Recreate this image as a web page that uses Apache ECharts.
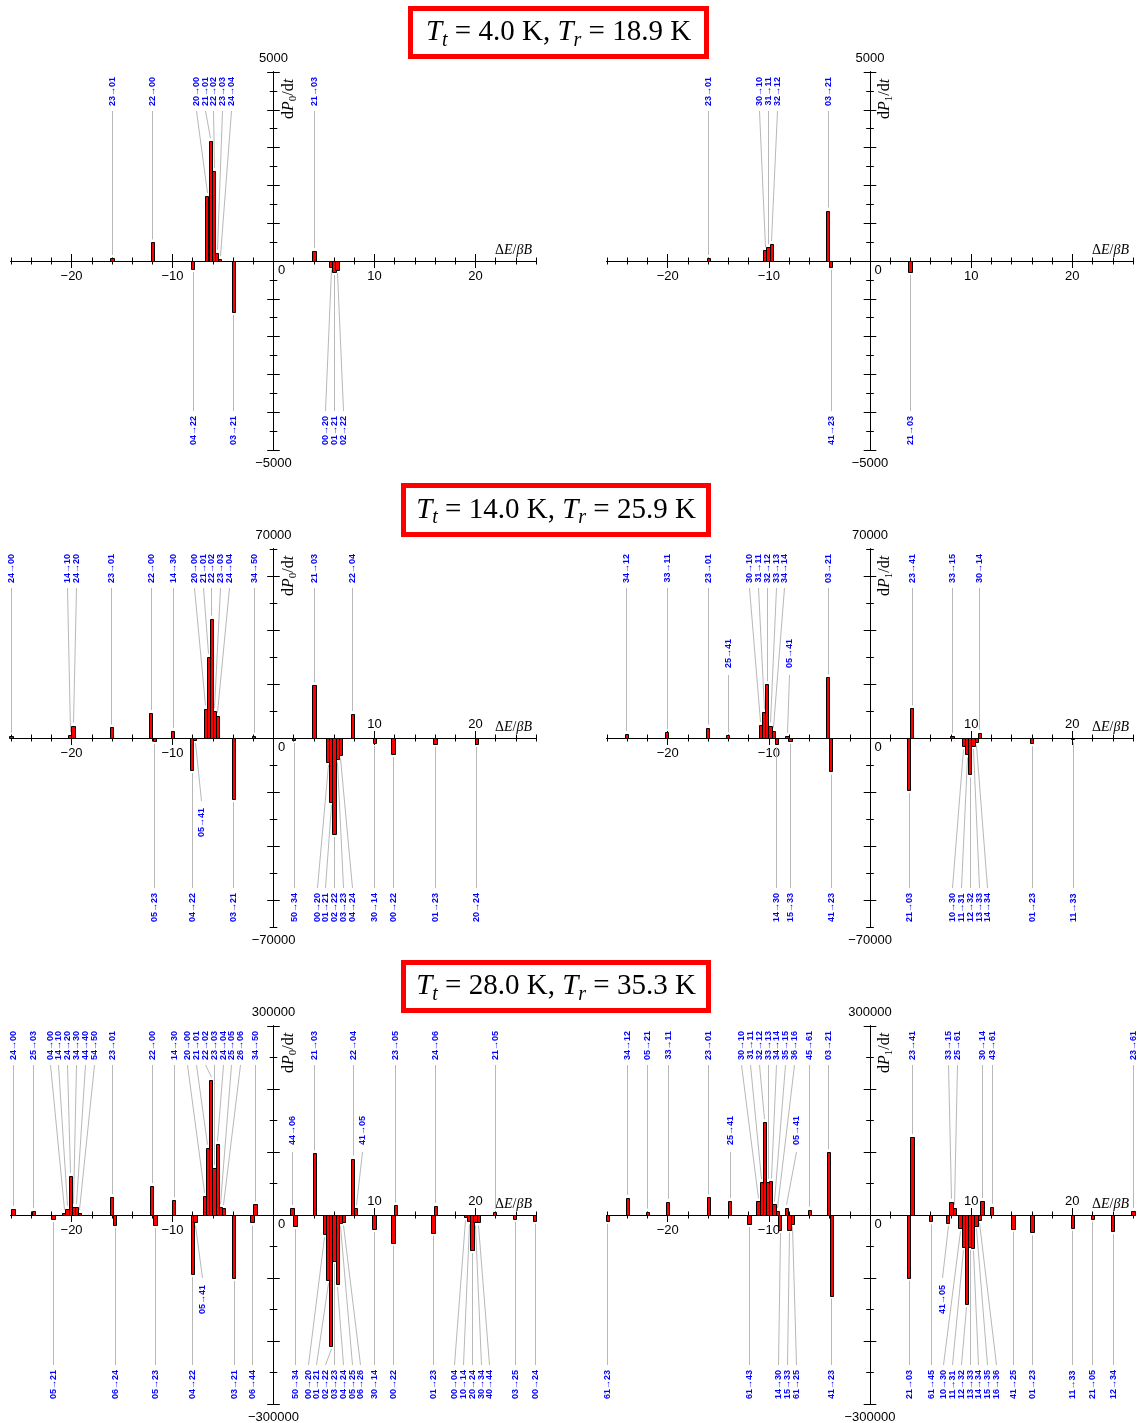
<!DOCTYPE html>
<html>
<head>
<meta charset="utf-8">
<title>Transition rates</title>
<script src="https://cdn.jsdelivr.net/npm/echarts@6/dist/echarts.min.js"></script>
<style>
html,body{margin:0;padding:0;background:#ffffff;}
#chart{width:1146px;height:1423px;}
</style>
</head>
<body>
<div id="chart"></div>
<script>
// ================= DATA =================
const titleTt = ['4.0', '14.0', '28.0'];
const titleTr = ['18.9', '25.9', '35.3'];
const yLimits = [5000, 70000, 300000];
const yMajorStep = [1000, 20000, 100000];
const yMinorStep = [500, 10000, 50000];
const xLimit = 26;
const xTickStep = 2;
const xMajorTicks = [-20, -10, 0, 10, 20];
const xLabelsBelow = [[-20, -10, 0, 10, 20], [-20, -10, 0], [-20, -10, 0]];
const xLabelsAbove = [[], [10, 20], [10, 20]];
const ySubscripts = ['0', '1'];

// Row 1 (T_t = 4.0 K), dP0/dt
const p1Labels = ['23→01','22→00','04→22','20→00','21→01','22→02','23→03','24→04','03→21','21→03','00→20','01→21','02→22'];
const p1X = [-16.0,-12.0,-8.0,-6.6,-6.27,-5.94,-5.63,-5.33,-4.0,4.0,5.7,6.0,6.3];
const p1V = [80,490,-215,1720,3170,2380,220,50,-1345,270,-150,-290,-230];

// Row 1, dP1/dt
const p2Labels = ['23→01','30→10','31→11','32→12','03→21','41→23','21→03'];
const p2X = [-16.0,-10.4,-10.08,-9.76,-4.2,-3.88,3.95];
const p2V = [80,285,365,455,1335,-150,-285];

// Row 2 (T_t = 14.0 K), dP0/dt
const p3Labels = ['24→00','14→10','24→20','23→01','22→00','05→23','14→30','04→22','05→41','20→00','21→01','22→02','23→03','24→04','03→21','34→50','50→34','21→03','00→20','01→21','02→22','03→23','04→24','22→04','30→14','00→22','01→23','20→24'];
const p3X = [-26.0,-20.2,-19.85,-16.05,-12.15,-11.8,-10.0,-8.1,-7.8,-6.75,-6.45,-6.15,-5.85,-5.55,-4.0,-1.95,2.0,4.0,5.37,5.69,6.0,6.33,6.63,7.82,10.0,11.84,16.0,20.1];
const p3V = [800,1100,4500,3900,9250,-1000,2600,-11900,-750,10900,30100,44250,9900,8250,-22600,900,-750,19500,-8800,-23800,-35500,-7900,-6400,8900,-1750,-5900,-2100,-2250];

// Row 2, dP1/dt
const p4Labels = ['34→12','33→11','23→01','25→41','30→10','31→11','32→12','33→13','34→14','14→30','05→41','15→33','03→21','41→23','21→03','23→41','33→15','10→30','11→31','12→32','13→33','14→34','30→14','01→23','11→33'];
const p4X = [-24.1,-20.1,-16.05,-14.05,-10.84,-10.52,-10.2,-9.88,-9.56,-9.28,-8.2,-7.9,-4.2,-3.9,3.82,4.14,8.1,9.23,9.54,9.86,10.18,10.5,10.8,16.0,20.03];
const p4V = [1500,2200,3850,1000,4850,9450,19900,4600,2750,-2250,750,-1000,22500,-12400,-19200,10950,750,-3100,-6100,-13500,-2900,-1600,1900,-1900,-500];

// Row 3 (T_t = 28.0 K), dP0/dt
const p5Labels = ['24→00','25→03','05→21','04→00','14→10','24→20','34→30','44→40','54→50','23→01','06→24','22→00','05→23','14→30','04→22','05→41','20→00','21→01','22→02','23→03','24→04','25→05','26→06','03→21','06→44','34→50','44→06','50→34','21→03','00→20','01→21','02→22','03→23','04→24','05→25','06→26','22→04','41→05','30→14','00→22','23→05','01→23','24→06','00→04','10→14','20→24','30→34','40→44','21→05','03→25','00→24'];
const p5X = [-25.8,-23.8,-21.84,-20.78,-20.46,-20.14,-19.82,-19.54,-19.22,-16.04,-15.72,-12.05,-11.73,-9.9,-8.06,-7.77,-6.86,-6.54,-6.22,-5.9,-5.58,-5.27,-4.96,-3.94,-2.12,-1.84,1.84,2.12,4.03,5.05,5.37,5.68,6.0,6.31,6.62,6.93,7.84,8.13,9.96,11.84,12.08,15.8,16.04,19.0,19.33,19.65,19.96,20.28,21.9,23.9,25.87];
const p5V = [9700,6500,-6400,3800,10000,62000,13000,12400,3200,28600,-16100,45900,-16100,23200,-93400,-11800,30800,107000,214000,74500,113000,12400,11300,-99800,-11800,16700,11300,-17700,97700,-30600,-103600,-207700,-72500,-109500,-12900,-11800,89600,10800,-22500,-44000,15100,-27900,14600,-3800,-10200,-55800,-11800,-11800,4900,-6400,-9100];

// Row 3, dP1/dt
const p6Labels = ['61→23','34→12','05→21','33→11','23→01','25→41','61→43','30→10','31→11','32→12','33→13','34→14','35→15','36→16','14→30','05→41','15→33','61→25','45→61','03→21','41→23','21→03','23→41','61→45','41→05','33→15','25→61','10→30','11→31','12→32','13→33','14→34','15→35','16→36','30→14','43→61','41→25','01→23','11→33','21→05','12→34','23→61'];
const p6X = [-25.96,-24.0,-22.0,-20.0,-16.0,-13.86,-11.96,-11.08,-10.76,-10.44,-10.12,-9.8,-9.49,-9.17,-8.92,-8.29,-8.0,-7.69,-6.0,-4.13,-3.81,3.81,4.16,6.0,7.69,8.0,8.32,8.89,9.21,9.52,9.84,10.16,10.48,10.79,11.08,12.03,14.14,16.01,20.0,21.98,24.0,26.0];
const p6V = [-9200,27500,5400,21000,28100,22100,-14600,21600,52300,147300,52300,53400,16700,6500,-24300,11300,-23200,-13500,8600,99800,-127900,-99300,123600,-10300,-12400,21000,11300,-21000,-50700,-141400,-50700,-51800,-16700,-7600,22100,13000,-21600,-27500,-20000,-5900,-25400,6500];

// labels drawn at the inner (second) tier
const innerLabels = [[], [], ['05→41'], ['25→41','05→41'], ['05→41','44→06','41→05'], ['25→41','05→41','41→05']];

// ================= LAYOUT / STYLE =================
const L = {
  colLeft: [11, 607], colWidth: [525, 526], rowTop: [72, 549, 1026], rowH: 378,
  tickMinorX: 3.5, tickMajorX: 7, tickMinorY: 3.8, tickMajorY: 6.3,
  labelGap: 8.8, innerClear: 9.5, txtPad: 5, lineOut: 39, innerTxt: 90, lineInner: 126, endGap: 3,
  barW: 0.32, labelFont: 9,
  titleBoxes: [[410.5, 8.5, 296, 48], [403.5, 485.5, 305, 49], [403.5, 962.5, 305, 48]]
};
const SANS = 'Liberation Sans';
const SERIF = 'Liberation Serif';

const panels = [
  {labels: p1Labels, x: p1X, v: p1V, row: 0, col: 0},
  {labels: p2Labels, x: p2X, v: p2V, row: 0, col: 1},
  {labels: p3Labels, x: p3X, v: p3V, row: 1, col: 0},
  {labels: p4Labels, x: p4X, v: p4V, row: 1, col: 1},
  {labels: p5Labels, x: p5X, v: p5V, row: 2, col: 0},
  {labels: p6Labels, x: p6X, v: p6V, row: 2, col: 1}
];

function steps(a, b, s) { const out = []; for (let k = 0; a + k * s <= b + 1e-9; k++) out.push(+(a + k * s).toFixed(6)); return out; }
function fmtMinus(v) { return v < 0 ? '\u2212' + Math.abs(v) : String(v); }

const chart = echarts.init(document.getElementById('chart'), null, {renderer: 'canvas', width: 1146, height: 1423});

const grids = [], xAxes = [], yAxes = [], barSeries = [];
const xMinorTicks = steps(-xLimit, xLimit, xTickStep);
// labels of an on-zero axis are offset to the grid edge; pull them back to the zero line
const halfH = L.rowH / 2;

function xAxisDef(i, base, position, ticks, len, label) {
  return {
    type: 'value', gridIndex: i, position: position, min: -xLimit, max: xLimit,
    splitLine: {show: false},
    axisLine: {show: true, onZero: true, onZeroAxisIndex: base, lineStyle: {color: '#000', width: 1}},
    axisTick: {show: true, customValues: ticks, length: len, lineStyle: {color: '#000', width: 1}},
    axisLabel: label || {show: false}
  };
}
function yAxisDef(i, base, position, ymax, ticks, len) {
  return {
    type: 'value', gridIndex: i, position: position, min: -ymax, max: ymax,
    splitLine: {show: false},
    axisLine: {show: true, onZero: true, onZeroAxisIndex: base, lineStyle: {color: '#000', width: 1}},
    axisTick: {show: true, customValues: ticks, length: len, lineStyle: {color: '#000', width: 1}},
    axisLabel: {show: false}
  };
}

function barRender(params, api) {
  const x = api.value(0), v = api.value(1);
  const a = api.coord([x - L.barW / 2, v]), b = api.coord([x + L.barW / 2, 0]);
  const x0 = Math.round(a[0]) + 0.5, x1 = Math.round(b[0]) + 0.5;
  const y0 = Math.round(Math.min(a[1], b[1])) + 0.5, y1 = Math.round(Math.max(a[1], b[1])) + 0.5;
  return {
    type: 'rect',
    shape: {x: x0, y: y0, width: Math.max(1, x1 - x0), height: Math.max(0, y1 - y0)},
    style: {fill: '#ff0000', stroke: '#000000', lineWidth: 1}
  };
}

panels.forEach(function (p, i) {
  const r = p.row, c = p.col, ymax = yLimits[r], base = 4 * i;
  grids.push({left: L.colLeft[c], top: L.rowTop[r], width: L.colWidth[c], height: L.rowH, containLabel: false, outerBoundsMode: 'none'});
  const richN = {fontFamily: SANS, fontSize: 13, color: '#000', padding: [6, 0, 0, 0]};
  const richZ = {fontFamily: SANS, fontSize: 13, color: '#000', padding: [0, 0, 0, 16]};
  xAxes.push(xAxisDef(i, base, 'bottom', xMinorTicks, L.tickMinorX, {
    show: true, customValues: xLabelsBelow[r], margin: 3 - halfH, color: '#000', fontFamily: SANS, fontSize: 13,
    formatter: function (v) { return v === 0 ? '{z|0}' : '{n|' + fmtMinus(v) + '}'; },
    rich: {n: richN, z: richZ}
  }));
  xAxes.push(xAxisDef(i, base, 'top', xMinorTicks, L.tickMinorX, xLabelsAbove[r].length ? {
    show: true, customValues: xLabelsAbove[r], margin: 7 - halfH, color: '#000', fontFamily: SANS, fontSize: 13,
    formatter: function (v) { return fmtMinus(v); }
  } : null));
  xAxes.push(xAxisDef(i, base, 'bottom', xMajorTicks, L.tickMajorX));
  xAxes.push(xAxisDef(i, base, 'top', xMajorTicks, L.tickMajorX));
  const mCount = Math.floor(ymax / yMajorStep[r]) * yMajorStep[r];
  const majorSet = steps(-mCount, mCount, yMajorStep[r]);
  const minorSet = steps(-ymax, ymax, yMinorStep[r]);
  yAxes.push(yAxisDef(i, base, 'left', ymax, majorSet, L.tickMajorY));
  yAxes.push(yAxisDef(i, base, 'right', ymax, majorSet, L.tickMajorY));
  yAxes.push(yAxisDef(i, base, 'left', ymax, minorSet, L.tickMinorY));
  yAxes.push(yAxisDef(i, base, 'right', ymax, minorSet, L.tickMinorY));
  barSeries.push({
    type: 'custom', name: 'bars' + i, xAxisIndex: base, yAxisIndex: base, z: 3,
    renderItem: barRender,
    data: p.x.map(function (x, k) { return [x, p.v[k]]; })
  });
});

chart.setOption({
  animation: false,
  backgroundColor: '#ffffff',
  grid: grids, xAxis: xAxes, yAxis: yAxes, series: barSeries
});

// ---------- label layout (pixel space via the chart's own converters) ----------
function spread(items, gap) {
  let clusters = items.map(function (it) { return {items: [it], center: it.bpx}; });
  let changed = true;
  while (changed) {
    changed = false;
    for (let k = 0; k < clusters.length - 1; k++) {
      const a = clusters[k], b = clusters[k + 1];
      const aEnd = a.center + (a.items.length - 1) * gap / 2;
      const bStart = b.center - (b.items.length - 1) * gap / 2;
      if (bStart - aEnd < gap - 1e-6) {
        const its = a.items.concat(b.items);
        const mean = its.reduce(function (s, q) { return s + q.bpx; }, 0) / its.length;
        clusters.splice(k, 2, {items: its, center: mean});
        changed = true;
        break;
      }
    }
  }
  clusters.forEach(function (c) {
    const start = c.center - (c.items.length - 1) * gap / 2;
    c.items.forEach(function (it, j) { it.lpx = start + j * gap; });
  });
}

function makeLabelRender(p) {
  const ymax = yLimits[p.row];
  return function (params, api) {
    const lx = api.value(0), bx = api.value(1), v = api.value(2), tier = api.value(3), k = api.value(4);
    const topY = api.coord([0, ymax])[1], botY = api.coord([0, -ymax])[1];
    const lpx = Math.round(api.coord([lx, 0])[0]) + 0.5;
    const bp = api.coord([bx, v]);
    const bpx = Math.round(bp[0]) + 0.5;
    let ty, align, ly;
    if (tier === 0) { ty = topY + L.txtPad; align = 'right'; ly = topY + L.lineOut; }
    else if (tier === 1) { ty = topY + L.innerTxt; align = 'right'; ly = topY + L.lineInner; }
    else if (tier === 2) { ty = botY - L.txtPad; align = 'left'; ly = botY - L.lineOut; }
    else { ty = botY - L.innerTxt; align = 'left'; ly = botY - L.lineInner; }
    const ey = v >= 0 ? bp[1] - L.endGap : bp[1] + L.endGap;
    return {
      type: 'group',
      children: [
        {type: 'line', shape: {x1: lpx, y1: ly, x2: bpx, y2: ey}, style: {stroke: '#b8b8b8', lineWidth: 1}},
        {type: 'text', x: lpx, y: ty, rotation: Math.PI / 2,
         style: {text: p.labels[k], fill: '#0000ff', fontFamily: SANS, fontWeight: 'bold', fontSize: L.labelFont, align: align, verticalAlign: 'middle'}}
      ]
    };
  };
}

const labelSeries = [];
const gfx = [];
panels.forEach(function (p, i) {
  const base = 4 * i, finder = {xAxisIndex: base, yAxisIndex: base}, ymax = yLimits[p.row];
  const topPx = chart.convertToPixel(finder, [0, ymax])[1];
  const botPx = chart.convertToPixel(finder, [0, -ymax])[1];
  const inner = innerLabels[i];
  const items = p.labels.map(function (name, k) {
    const bp = chart.convertToPixel(finder, [p.x[k], p.v[k]]);
    const up = p.v[k] >= 0;
    return {k: k, name: name, bpx: bp[0], endPx: up ? bp[1] - L.endGap : bp[1] + L.endGap, up: up, inner: inner.indexOf(name) >= 0};
  });
  [true, false].forEach(function (up) {
    const outer = items.filter(function (it) { return it.up === up && !it.inner; }).sort(function (a, b) { return a.bpx - b.bpx; });
    spread(outer, L.labelGap);
    outer.forEach(function (o) { o.startPx = up ? topPx + L.lineOut : botPx - L.lineOut; o.tier = up ? 0 : 2; });
    const midPx = up ? topPx + L.innerTxt + 15 : botPx - L.innerTxt - 15;
    // x of every outer leader line at the height of the inner tier
    const lineXs = [];
    outer.forEach(function (o) {
      if ((midPx - o.startPx) * (midPx - o.endPx) > 0) return;
      lineXs.push(o.lpx + (o.bpx - o.lpx) * (midPx - o.startPx) / (o.endPx - o.startPx));
    });
    items.filter(function (it) { return it.up === up && it.inner; }).forEach(function (it) {
      const cands = [it.bpx];
      lineXs.forEach(function (xl) { cands.push(xl - L.innerClear, xl + L.innerClear); });
      const ok = cands.filter(function (cx) {
        return lineXs.every(function (xl) { return Math.abs(cx - xl) >= L.innerClear - 1e-6; });
      }).sort(function (a, b) { return Math.abs(a - it.bpx) - Math.abs(b - it.bpx); });
      it.lpx = ok.length ? ok[0] : it.bpx;
      it.tier = up ? 1 : 3;
    });
  });
  labelSeries.push({
    type: 'custom', name: 'labels' + i, xAxisIndex: base, yAxisIndex: base, z: 4,
    renderItem: makeLabelRender(p),
    data: items.map(function (it) {
      const lx = chart.convertFromPixel(finder, [it.lpx, topPx])[0];
      return [lx, p.x[it.k], p.v[it.k], it.tier, it.k];
    })
  });

  // axis decorations
  const o = chart.convertToPixel(finder, [0, 0]);
  const e = chart.convertToPixel(finder, [xLimit, 0]);
  gfx.push({type: 'text', x: o[0], y: topPx - 13.5, silent: true,
    style: {text: fmtMinus(ymax), fontFamily: SANS, fontSize: 13, fill: '#000', align: 'center', verticalAlign: 'middle'}});
  gfx.push({type: 'text', x: o[0], y: botPx + 13.5, silent: true,
    style: {text: fmtMinus(-ymax), fontFamily: SANS, fontSize: 13, fill: '#000', align: 'center', verticalAlign: 'middle'}});
  gfx.push({type: 'text', x: e[0] - 4, y: e[1] - 4, silent: true,
    style: {text: '{n|Δ}{i|E}{n|/}{i|βB}', align: 'right', verticalAlign: 'bottom',
      rich: {n: {fontFamily: SERIF, fontSize: 14, fill: '#000'}, i: {fontFamily: SERIF, fontStyle: 'italic', fontSize: 14, fill: '#000'}}}});
  gfx.push({type: 'text', x: o[0] + 15, y: topPx + 27, rotation: Math.PI / 2, silent: true,
    style: {text: '{n|d}{i|P}{s|' + ySubscripts[p.col] + '}{n|/d}{i|t}', align: 'center', verticalAlign: 'middle',
      rich: {
        n: {fontFamily: SERIF, fontSize: 16, fill: '#000', lineHeight: 20, verticalAlign: 'middle'},
        i: {fontFamily: SERIF, fontStyle: 'italic', fontSize: 16, fill: '#000', lineHeight: 20, verticalAlign: 'middle'},
        s: {fontFamily: SERIF, fontSize: 11, fill: '#000', lineHeight: 12, verticalAlign: 'bottom'}
      }}});
});

// titles
titleTt.forEach(function (tt, r) {
  const b = L.titleBoxes[r];
  gfx.push({type: 'rect', shape: {x: b[0], y: b[1], width: b[2], height: b[3]}, silent: true,
    style: {fill: '#ffffff', stroke: '#ff0000', lineWidth: 5}});
  gfx.push({type: 'text', x: b[0] + b[2] / 2, y: b[1] + b[3] / 2, silent: true,
    style: {text: '{i|T}{s|t}{n| = ' + tt + ' K, }{i|T}{s|r}{n| = ' + titleTr[r] + ' K}', align: 'center', verticalAlign: 'middle',
      rich: {
        n: {fontFamily: SERIF, fontSize: 29, fill: '#000', lineHeight: 36, verticalAlign: 'middle'},
        i: {fontFamily: SERIF, fontStyle: 'italic', fontSize: 29, fill: '#000', lineHeight: 36, verticalAlign: 'middle'},
        s: {fontFamily: SERIF, fontStyle: 'italic', fontSize: 20, fill: '#000', lineHeight: 20, verticalAlign: 'bottom'}
      }}});
});

chart.setOption({series: barSeries.concat(labelSeries), graphic: {elements: gfx}});
</script>
</body>
</html>
